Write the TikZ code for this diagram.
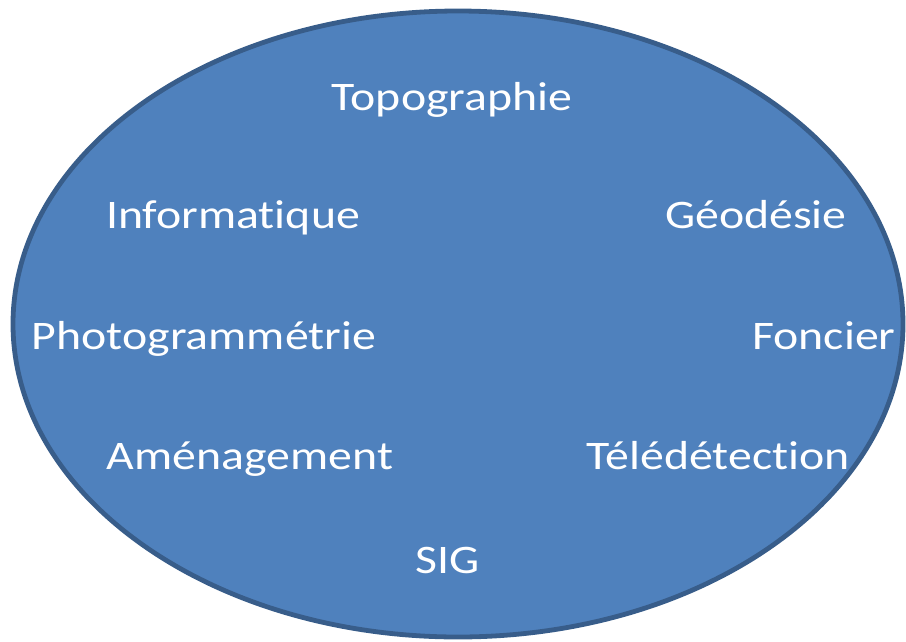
\documentclass[tikz,border=0pt]{standalone}
\usepackage{fontspec}
\setmainfont[Ligatures=NoCommon]{Carlito}
\definecolor{fillblue}{HTML}{4F81BD}
\definecolor{edgeblue}{HTML}{385D8A}
\newcommand{\wide}[1]{\scalebox{1.18}[1]{#1}}
\begin{document}
\begin{tikzpicture}[x=1pt,y=-1pt,
  lbl/.style={text=white,anchor=base,inner sep=0pt,font=\fontsize{40.5}{48}\selectfont}]
\useasboundingbox (0,0) rectangle (906,641);
\path[fill=fillblue,draw=edgeblue,line width=4.8pt] (458,324) ellipse [x radius=445, y radius=313];
\node[lbl] (topo) at (452,110) {\wide{Topographie}};
\node[lbl] (info) at (233,228) {\wide{Informatique}};
\node[lbl] (geo) at (756,228) {\wide{Géodésie}};
\node[lbl] (photo) at (204,349) {\wide{Photogrammétrie}};
\node[lbl] (fonc) at (824,349) {\wide{Foncier}};
\node[lbl] (amen) at (250,469) {\wide{Aménagement}};
\node[lbl] (tele) at (718,469) {\wide{Télédétection}};
\node[lbl] (sig) at (448,573) {\wide{SIG}};
\end{tikzpicture}
\end{document}
